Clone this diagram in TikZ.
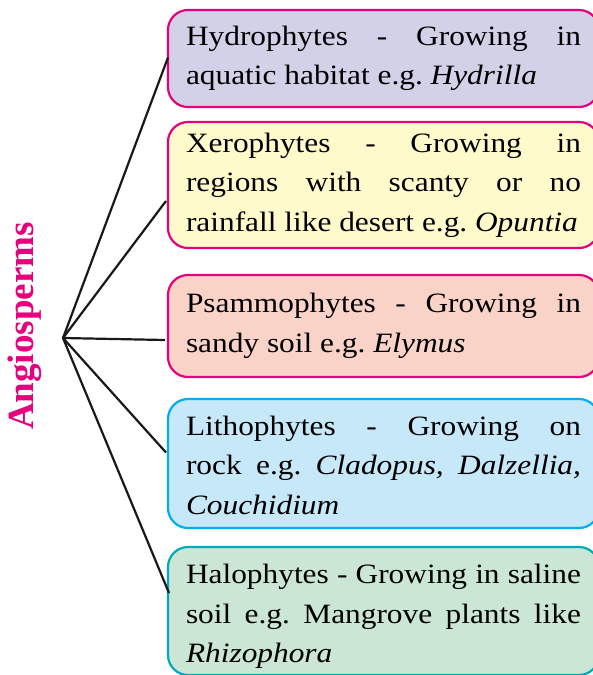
\documentclass[tikz,border=0pt]{standalone}
\usepackage{fontspec}
\setmainfont{Liberation Serif}[FakeStretch=1.12]
\newfontfamily\titlefont{Liberation Serif}
\usetikzlibrary{positioning}
\definecolor{cMagenta}{RGB}{230,0,126}
\definecolor{cCyan}{RGB}{0,174,239}
\definecolor{cTeal}{RGB}{0,169,190}
\definecolor{cLavender}{RGB}{211,209,231}
\definecolor{cCream}{RGB}{255,250,204}
\definecolor{cPeach}{RGB}{249,211,199}
\definecolor{cSky}{RGB}{199,232,249}
\definecolor{cMint}{RGB}{203,230,212}
\tolerance=10000
\hyphenpenalty=10000
\frenchspacing
\tikzset{
	habbox/.style ={rectangle, rounded corners=20pt, line width=2.2pt, outer sep=0pt, text width=395pt, inner xsep=18pt, inner ysep=4pt, align=justify, font=\fontsize{28}{39.5}\selectfont},
	branch/.style ={line width=2.2pt, black!90},
}
\begin{document}
\begin{tikzpicture}[x=1pt, y=-1pt]
	\clip (0,0) rectangle (593,675);
	\node[rotate=90, anchor=base, text=cMagenta, font=\titlefont\bfseries\fontsize{37}{40}\selectfont] (angio) at (33,326) {Angiosperms};
	\coordinate (hub) at (63,338);
	\node[habbox, draw=cMagenta, fill=cLavender, minimum height=97pt, anchor=north west] (hydro) at (168,10) {Hydrophytes - Growing in\linebreak aquatic habitat e.g. \textit{Hydrilla}};
	\node[habbox, draw=cMagenta, fill=cCream, minimum height=126pt, below=15pt of hydro.south west, anchor=north west] (xero) {Xerophytes - Growing in\linebreak regions with scanty or no\linebreak rainfall like desert e.g. \textit{Opuntia}};
	\node[habbox, draw=cMagenta, fill=cPeach, minimum height=102pt, below=27pt of xero.south west, anchor=north west] (psammo) {Psammophytes - Growing in\linebreak sandy soil e.g. \textit{Elymus}};
	\node[habbox, draw=cCyan, fill=cSky, minimum height=129pt, below=22pt of psammo.south west, anchor=north west] (litho) {\rule{0pt}{23pt}Lithophytes - Growing on\linebreak rock e.g. \textit{Cladopus, Dalzellia,}\linebreak \textit{Couchidium}};
	\node[habbox, draw=cTeal, fill=cMint, minimum height=128pt, below=19pt of litho.south west, anchor=north west] (halo) {\rule{0pt}{30pt}Halophytes - Growing in saline\linebreak soil e.g. Mangrove plants like\linebreak \textit{Rhizophora}};
	% branches from the hub to each habitat
	\draw[branch] (hub) -- ([yshift=1pt]hydro.west);
	\draw[branch] (hub) -- ([xshift=-2pt, yshift=-16pt]xero.west);
	\draw[branch] (hub) -- ([xshift=-3pt, yshift=-14pt]psammo.west);
	\draw[branch] (hub) -- ([xshift=-2pt, yshift=11pt]litho.west);
	\draw[branch] (hub) -- ([xshift=1pt, yshift=18pt]halo.west);
\end{tikzpicture}
\end{document}
